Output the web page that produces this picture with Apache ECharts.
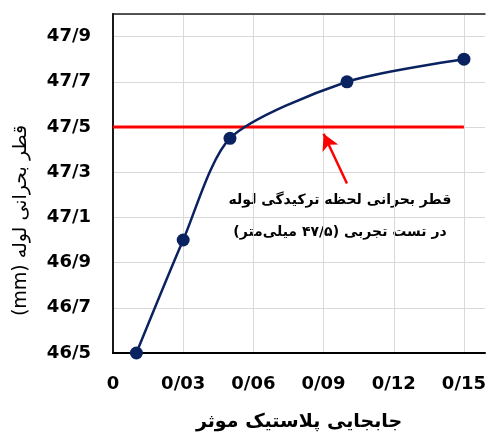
<!DOCTYPE html>
<html>
<head>
<meta charset="utf-8">
<script src="https://cdn.jsdelivr.net/npm/echarts@6/dist/echarts.min.js"></script>
<style>
  html, body { margin: 0; padding: 0; background: #fff; }
  #container { width: 487px; height: 434px; direction: rtl; }
</style>
</head>
<body>
<div id="container"></div>
<script>
// plastic displacement vs critical pipe diameter
const dispX = [0.01, 0.03, 0.05, 0.10, 0.15];
const diameter = [46.5, 47.0, 47.45, 47.7, 47.8];
const criticalDiam = 47.5;
const criticalRange = [0, 0.15];
const arrowFrom = [0.10, 47.25];
const arrowTo = [0.09, 47.47];
const xTitle = 'جابجایی پلاستیک موثر';
const yTitle = 'قطر بحرانی لوله (mm)';
const note1 = 'قطر بحرانی لحظه ترکیدگی لوله';
const note2 = 'در تست تجربی (۴۷/۵ میلی‌متر)';

const dom = document.getElementById('container');
const myChart = echarts.init(dom);

const tickFont = {
  fontFamily: 'DejaVu Sans',
  fontWeight: 'bold',
  fontSize: 18,
  color: '#000',
};
const noteFont = {
  fontFamily: 'DejaVu Sans',
  fontWeight: 'bold',
  fontSize: 14,
  fill: '#000',
  align: 'center',
  verticalAlign: 'middle',
  textAlign: 'center',
  textVerticalAlign: 'middle',
};

const option = {
  animation: false,
  grid: {
    left: 113,
    top: 14,
    width: 372,
    height: 339,
    show: false,
    outerBoundsMode: 'none',
    containLabel: false,
  },
  xAxis: [
    {
      type: 'value',
      min: 0,
      max: 0.159,
      interval: 0.03,
      name: xTitle,
      nameLocation: 'middle',
      nameGap: 60,
      nameTextStyle: { fontFamily: 'DejaVu Sans', fontWeight: 'bold', fontSize: 19, color: '#000' },
      axisLine: { lineStyle: { color: '#000', width: 2 } },
      axisTick: { show: false },
      splitLine: { showMaxLine: false, lineStyle: { color: '#d9d9d9', width: 1 } },
      axisLabel: Object.assign({
        margin: 22,
        formatter: function (v) {
          if (v > 0.155) return '';
          if (v === 0) return '0';
          return v.toFixed(2).replace('.', '/');
        },
      }, tickFont),
    },
    {
      type: 'value',
      position: 'top',
      min: 0,
      max: 0.159,
      axisLine: { show: true, lineStyle: { color: '#222', width: 1.5 } },
      axisTick: { show: false },
      axisLabel: { show: false },
      splitLine: { show: false },
    },
  ],
  yAxis: [
    {
      type: 'value',
      min: 46.5,
      max: 48.0,
      interval: 0.2,
      name: yTitle,
      nameLocation: 'middle',
      nameGap: 82,
      nameTextStyle: { fontFamily: 'DejaVu Sans', fontSize: 19, color: '#000', padding: [0, 74, 0, 0] },
      axisLine: { show: true, lineStyle: { color: '#000', width: 2 } },
      axisTick: { show: false },
      splitLine: { lineStyle: { color: '#d9d9d9', width: 1 } },
      axisLabel: Object.assign({
        margin: 22,
        formatter: function (v) {
          if (v > 47.95) return '';
          return v.toFixed(1).replace('.', '/');
        },
      }, tickFont),
    },
    {
      type: 'value',
      position: 'right',
      min: 46.5,
      max: 48.0,
      axisLine: { show: true, lineStyle: { color: '#222', width: 1.5 } },
      axisTick: { show: false },
      axisLabel: { show: false },
      splitLine: { show: false },
    },
  ],
  series: [
    {
      name: 'critical',
      type: 'line',
      symbol: 'none',
      z: 2,
      lineStyle: { color: '#ff0000', width: 3 },
      data: criticalRange.map(function (x) { return [x, criticalDiam]; }),
      markLine: {
        silent: true,
        symbol: ['none', 'arrow'],
        symbolSize: [13, 16],
        label: { show: false },
        lineStyle: { color: '#ff0000', width: 2.5, type: 'solid' },
        data: [[{ coord: arrowFrom }, { coord: arrowTo }]],
      },
    },
    {
      name: 'diameter',
      type: 'line',
      smooth: 0.25,
      z: 3,
      symbol: 'circle',
      symbolSize: 13,
      lineStyle: { color: '#0b2260', width: 2.5 },
      itemStyle: { color: '#0b2260' },
      data: dispX.map(function (x, i) { return [x, diameter[i]]; }),
    },
  ],
  graphic: [
    { type: 'text', x: 340, y: 200, style: Object.assign({ text: note1 }, noteFont) },
    { type: 'text', x: 340, y: 232, style: Object.assign({ text: note2 }, noteFont) },
  ],
};

myChart.setOption(option, true);
</script>
</body>
</html>
